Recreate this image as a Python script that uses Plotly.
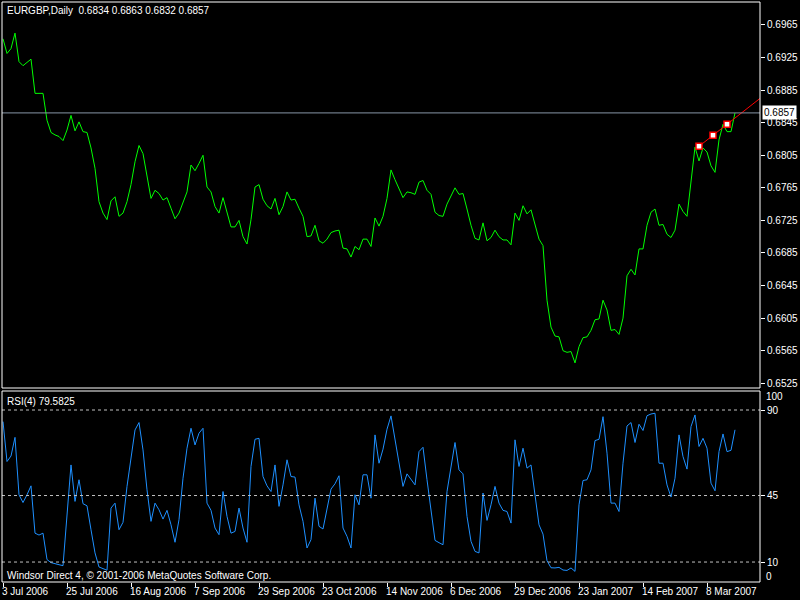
import plotly.graph_objects as go

# ---------------- data ----------------
close = [
    0.6948, 0.6930, 0.6936, 0.6955, 0.6920, 0.6915, 0.6919, 0.6923, 0.6881, 0.6881,
    0.6881, 0.6848, 0.6833, 0.6830, 0.6828, 0.6823, 0.6836, 0.6854, 0.6835, 0.6846,
    0.6834, 0.6833, 0.6814, 0.6789, 0.6748, 0.6734, 0.6726, 0.6749, 0.6754, 0.6730,
    0.6734, 0.6748, 0.6769, 0.6797, 0.6817, 0.6807, 0.6781, 0.6752, 0.6762, 0.6758,
    0.6750, 0.6753, 0.6740, 0.6727, 0.6734, 0.6748, 0.6760, 0.6793, 0.6786, 0.6795,
    0.6805, 0.6766, 0.6760, 0.6742, 0.6734, 0.6753, 0.6736, 0.6717, 0.6717, 0.6725,
    0.6705, 0.6696, 0.6726, 0.6766, 0.6769, 0.6751, 0.6743, 0.6739, 0.6752, 0.6732,
    0.6742, 0.6760, 0.6750, 0.6751, 0.6740, 0.6730, 0.6705, 0.6706, 0.6719, 0.6700,
    0.6697, 0.6702, 0.6710, 0.6712, 0.6713, 0.6691, 0.6690, 0.6680, 0.6693, 0.6689,
    0.6702, 0.6702, 0.6693, 0.6728, 0.6718, 0.6730, 0.6752, 0.6787, 0.6775, 0.6763,
    0.6753, 0.6760, 0.6759, 0.6757, 0.6772, 0.6774, 0.6762, 0.6757, 0.6735, 0.6731,
    0.6730, 0.6745, 0.6755, 0.6765, 0.6757, 0.6758, 0.6739, 0.6719, 0.6703, 0.6701,
    0.6722, 0.6700, 0.6704, 0.6713, 0.6705, 0.6701, 0.6701, 0.6695, 0.6734, 0.6725,
    0.6743, 0.6733, 0.6738, 0.6721, 0.6702, 0.6694, 0.6627, 0.6594, 0.6583, 0.6582,
    0.6565, 0.6563, 0.6564, 0.6550, 0.6570, 0.6581, 0.6582, 0.6590, 0.6603, 0.6604,
    0.6627, 0.6615, 0.6590, 0.6591, 0.6585, 0.6605, 0.6657, 0.6665, 0.6658, 0.6690,
    0.6690, 0.6719, 0.6735, 0.6739, 0.6719, 0.6720, 0.6708, 0.6704, 0.6713, 0.6745,
    0.6736, 0.6730, 0.6773, 0.6815, 0.6798, 0.6814, 0.6809, 0.6792, 0.6784, 0.6824,
    0.6843, 0.6834, 0.6834, 0.6857,
]

rsi = [
    83.9, 62.9, 65.8, 75.6, 45.4, 41.3, 45.4, 50.1, 25.2, 24.2,
    25.2, 11.3, 9.7, 9.0, 8.6, 8.1, 35.8, 61.1, 41.9, 53.3,
    40.7, 39.6, 27.0, 14.8, 7.4, 6.5, 5.7, 38.4, 41.0, 27.0,
    30.9, 49.8, 64.6, 79.5, 83.4, 69.0, 48.0, 31.4, 41.0, 37.5,
    32.6, 37.2, 29.6, 20.4, 32.3, 54.1, 69.9, 80.4, 71.6, 77.8,
    80.4, 41.0, 37.2, 27.9, 24.4, 47.1, 34.0, 25.2, 26.1, 38.4,
    27.9, 20.4, 60.3, 74.6, 75.1, 55.0, 50.1, 47.1, 61.1, 39.3,
    50.6, 63.8, 55.0, 54.7, 40.1, 31.4, 17.4, 21.8, 43.6, 28.8,
    27.4, 38.4, 48.4, 51.2, 55.4, 27.9, 23.5, 17.4, 45.4, 40.1,
    55.9, 55.9, 43.6, 76.9, 62.0, 69.4, 79.9, 86.9, 74.3, 62.9,
    49.8, 56.4, 53.6, 50.6, 68.1, 70.4, 53.3, 38.4, 21.4, 20.2,
    19.1, 47.1, 61.1, 72.9, 58.5, 56.4, 34.0, 20.9, 15.6, 14.8,
    46.3, 31.9, 40.1, 49.8, 41.0, 37.2, 36.6, 30.5, 74.3, 60.3,
    69.9, 59.4, 61.1, 44.5, 29.6, 24.7, 10.7, 7.0, 6.9, 7.2,
    5.8, 5.6, 6.9, 5.1, 40.1, 52.9, 53.3, 58.5, 73.9, 74.6,
    86.5, 67.3, 41.0, 41.0, 36.6, 62.0, 81.6, 83.4, 72.9, 82.5,
    79.2, 87.0, 87.9, 88.3, 62.0, 62.0, 50.6, 44.2, 54.1, 76.9,
    65.5, 58.9, 81.3, 87.4, 70.8, 75.1, 69.9, 51.5, 47.5, 68.1,
    77.4, 68.1, 68.8, 79.58,
]

date_labels = ["3 Jul 2006", "25 Jul 2006", "16 Aug 2006", "7 Sep 2006",
               "29 Sep 2006", "23 Oct 2006", "14 Nov 2006", "6 Dec 2006",
               "29 Dec 2006", "23 Jan 2007", "14 Feb 2007", "8 Mar 2007"]
date_bars = [0, 16, 32, 48, 64, 80, 96, 112, 128, 144, 160, 176]

price_ticks = [0.6525, 0.6565, 0.6605, 0.6645, 0.6685, 0.6725, 0.6765,
               0.6805, 0.6845, 0.6885, 0.6925, 0.6965]
rsi_levels = [10, 45, 90]

symbol = "EURGBP,Daily"
ohlc = [0.6834, 0.6863, 0.6832, 0.6857]
rsi_period = 4
rsi_last = 79.5825
bid = 0.6857

trend_bars = [174, 181]
trend_prices = [0.6816, 0.6843]

# ---------------- layout geometry ----------------
W, H = 800, 600
FONT = "Liberation Sans"
X_RANGE = [-0.25, 189.25]
px = lambda v: v / W
py = lambda v: 1 - v / H

main_dom = [py(388), py(2)]
rsi_dom = [py(582), py(391)]
x_dom = [px(2), px(760)]

n = len(close)
bars = list(range(n))

fig = go.Figure()

fig.add_trace(go.Scatter(x=bars, y=close, mode="lines",
                         line=dict(color="#00FF00", width=1),
                         xaxis="x", yaxis="y", hoverinfo="skip"))

# trend line (ray) extended to the right edge
slope = (trend_prices[1] - trend_prices[0]) / (trend_bars[1] - trend_bars[0])
x_end = X_RANGE[1] + 2
y_end = trend_prices[0] + slope * (x_end - trend_bars[0])
fig.add_trace(go.Scatter(x=[trend_bars[0], x_end], y=[trend_prices[0], y_end],
                         mode="lines", line=dict(color="#FF0000", width=1),
                         xaxis="x", yaxis="y", hoverinfo="skip"))
mid_bar = (trend_bars[0] + trend_bars[1]) / 2
mid_price = (trend_prices[0] + trend_prices[1]) / 2
fig.add_trace(go.Scatter(x=[trend_bars[0], mid_bar, trend_bars[1]],
                         y=[trend_prices[0], mid_price, trend_prices[1]],
                         mode="markers",
                         marker=dict(symbol="square", size=6, color="white",
                                     line=dict(color="#FF0000", width=1.5)),
                         xaxis="x", yaxis="y", hoverinfo="skip"))

fig.add_trace(go.Scatter(x=bars, y=rsi, mode="lines",
                         line=dict(color="#1E90FF", width=1),
                         xaxis="x2", yaxis="y2", hoverinfo="skip"))

shapes = []
# bid line
shapes.append(dict(type="line", xref="paper", yref="y", x0=x_dom[0], x1=x_dom[1],
                   y0=bid, y1=bid, line=dict(color="#8797A8", width=1)))
# RSI levels
for lv in rsi_levels:
    shapes.append(dict(type="line", xref="paper", yref="y2", x0=x_dom[0], x1=x_dom[1],
                       y0=lv, y1=lv, line=dict(color="#C0C0C0", width=1, dash="3px,3px")))
# frames
for dom in (main_dom, rsi_dom):
    shapes.append(dict(type="rect", xref="paper", yref="paper",
                       x0=x_dom[0], x1=x_dom[1], y0=dom[0], y1=dom[1],
                       line=dict(color="white", width=1), fillcolor="rgba(0,0,0,0)"))

annotations = []
nb = "\u00a0"
header = symbol + nb * 2 + " ".join(f"{v:.4f}" for v in ohlc)
annotations.append(dict(xref="paper", yref="paper", x=px(5), y=py(11), text=header,
                        showarrow=False, xanchor="left", yanchor="middle",
                        font=dict(family=FONT, size=10, color="white")))
annotations.append(dict(xref="paper", yref="paper", x=px(5), y=py(401),
                        text=f"RSI({rsi_period}) {rsi_last:.4f}",
                        showarrow=False, xanchor="left", yanchor="middle",
                        font=dict(family=FONT, size=10, color="white")))
annotations.append(dict(xref="paper", yref="paper", x=px(5), y=py(575),
                        text="Windsor Direct 4, \u00a9 2001-2006 MetaQuotes Software Corp.",
                        showarrow=False, xanchor="left", yanchor="middle",
                        font=dict(family=FONT, size=10, color="white")))
# bid price box
annotations.append(dict(xref="paper", yref="y", x=px(762), y=bid, text=f"{bid:.4f}",
                        showarrow=False, xanchor="left", yanchor="middle",
                        bgcolor="white", borderpad=1,
                        font=dict(family=FONT, size=10, color="black")))
# RSI 100 / 0 labels
annotations.append(dict(xref="paper", yref="y2", x=px(764), y=100, text="100",
                        showarrow=False, xanchor="left", yanchor="middle", yshift=-6,
                        font=dict(family=FONT, size=10, color="white")))
annotations.append(dict(xref="paper", yref="y2", x=px(764), y=0, text="0",
                        showarrow=False, xanchor="left", yanchor="middle", yshift=5,
                        font=dict(family=FONT, size=10, color="white")))
# date labels, left aligned at ticks
for b, lab in zip(date_bars, date_labels):
    annotations.append(dict(xref="x2", yref="paper", x=b, y=py(591), text=lab,
                            showarrow=False, xanchor="left", yanchor="middle", xshift=-3,
                            font=dict(family=FONT, size=10, color="white")))

axis_common = dict(showgrid=False, zeroline=False, showline=False, fixedrange=True,
                   automargin=False)

fig.update_layout(
    width=W, height=H, margin=dict(l=0, r=0, t=0, b=0, pad=0, autoexpand=False),
    paper_bgcolor="black", plot_bgcolor="black", showlegend=False,
    xaxis=dict(domain=x_dom, range=X_RANGE, anchor="y", showticklabels=False,
               ticks="", **axis_common),
    yaxis=dict(domain=main_dom, range=[0.65192, 0.69932], anchor="x", side="right",
               tickvals=price_ticks, ticktext=[f"{t:.4f}" for t in price_ticks],
               ticks="outside", ticklen=4, tickcolor="white",
               tickfont=dict(family=FONT, size=10, color="white"), **axis_common),
    xaxis2=dict(domain=x_dom, range=X_RANGE, anchor="y2", showticklabels=False,
                tickvals=date_bars, ticks="outside", ticklen=4, tickcolor="white",
                **axis_common),
    yaxis2=dict(domain=rsi_dom, range=[-0.5, 100], anchor="x2", side="right",
                tickvals=rsi_levels, ticktext=[str(v) for v in rsi_levels],
                ticks="outside", ticklen=4, tickcolor="white",
                tickfont=dict(family=FONT, size=10, color="white"), **axis_common),
    shapes=shapes, annotations=annotations,
)

fig.write_html("out.html",
               config={"displayModeBar": False, "staticPlot": True},
               post_script="document.body.style.margin='0px';"
                           "document.body.style.background='black';")
